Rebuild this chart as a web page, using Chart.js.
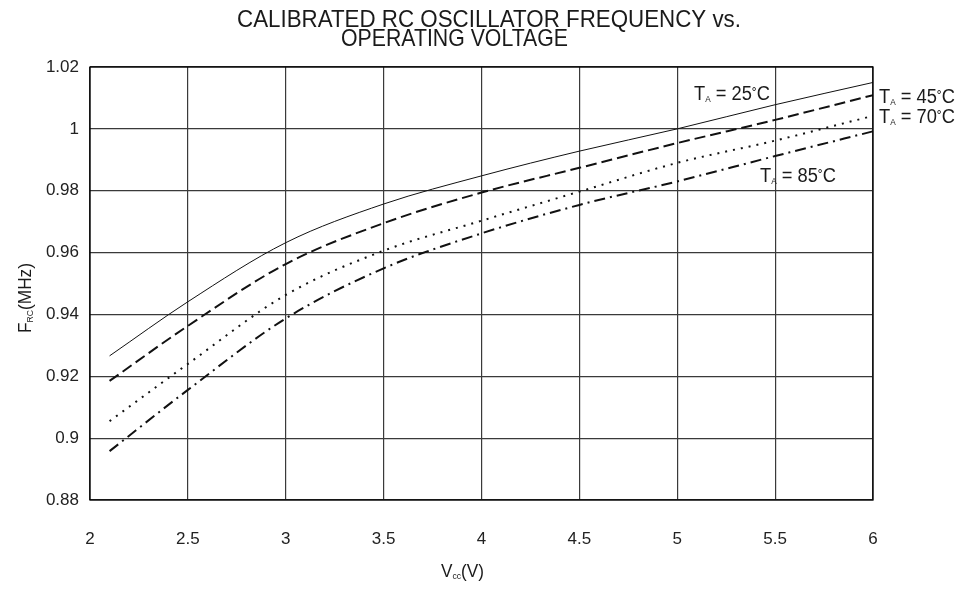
<!DOCTYPE html>
<html>
<head>
<meta charset="utf-8">
<script src="https://cdn.jsdelivr.net/npm/chart.js@4/dist/chart.umd.min.js"></script>
<style>
  html, body { margin: 0; padding: 0; background: #fff; }
  #wrap { width: 970px; height: 590px; }
</style>
</head>
<body>
<div id="wrap"><canvas id="chart" width="970" height="590"></canvas></div>
<script>
const titleLines = ['CALIBRATED RC OSCILLATOR FREQUENCY vs.', 'OPERATING VOLTAGE'];
const voltage = [2.1, 2.5, 3, 3.5, 4, 4.5, 5, 5.5, 6];
const freq25 = [0.9266, 0.9441, 0.9632, 0.9757, 0.9848, 0.9928, 1.0000, 1.0078, 1.0150];
const freq45 = [0.9185, 0.9363, 0.9563, 0.9695, 0.9794, 0.9874, 0.9954, 1.0029, 1.0109];
const freq70 = [0.9055, 0.9240, 0.9463, 0.9606, 0.9703, 0.9797, 0.9890, 0.9962, 1.0042];
const freq85 = [0.8958, 0.9156, 0.9387, 0.9549, 0.9662, 0.9754, 0.9830, 0.9912, 0.9992];
const xTicks = [2, 2.5, 3, 3.5, 4, 4.5, 5, 5.5, 6];
const yTicks = [0.88, 0.9, 0.92, 0.94, 0.96, 0.98, 1, 1.02];
const yTickLabels = ['0.88', '0.9', '0.92', '0.94', '0.96', '0.98', '1', '1.02'];
const seriesTemps = ['25', '45', '70', '85'];

const FONT = '"Liberation Sans", Arial, sans-serif';

function pts(ys) {
  return voltage.map((v, i) => ({ x: v, y: ys[i] }));
}

// where the T_A tags sit (data coords, left edge / baseline)
const tagPos = [
  { x: 5.086, y: 1.0093 },
  { x: 6.031, y: 1.0084 },
  { x: 6.031, y: 1.0019 },
  { x: 5.423, y: 0.9828 }
];

// draws mixed-size text (for subscripts) squeezed to a given width
function subText(ctx, parts, x, y, width, align) {
  let w = 0;
  parts.forEach(p => { ctx.font = p.size + 'px ' + FONT; w += ctx.measureText(p.t).width; });
  const k = width ? width / w : 1;
  ctx.save();
  const start = align === 'center' ? x - (w * k) / 2 : (align === 'right' ? x - w * k : x);
  ctx.translate(start, y);
  ctx.scale(k, 1);
  ctx.textAlign = 'left';
  ctx.textBaseline = 'alphabetic';
  let cx = 0;
  parts.forEach(p => {
    ctx.font = p.size + 'px ' + FONT;
    ctx.fillText(p.t, cx, p.dy || 0);
    cx += ctx.measureText(p.t).width;
  });
  ctx.restore();
}

const decorations = {
  id: 'decorations',
  afterDraw(chart) {
    const ctx = chart.ctx;
    const area = chart.chartArea;
    const xs = chart.scales.x, ys = chart.scales.y;
    ctx.save();
    ctx.fillStyle = '#1a1a1a';

    // title
    subText(ctx, [{ t: titleLines[0], size: 24 }], 237, 27, 504, 'left');
    subText(ctx, [{ t: titleLines[1], size: 24 }], 341, 46, 227, 'left');

    // plot border
    ctx.strokeStyle = '#000';
    ctx.lineWidth = 1.3;
    ctx.strokeRect(area.left, area.top, area.right - area.left, area.bottom - area.top);

    // temperature tags
    seriesTemps.forEach((t, i) => {
      const p = tagPos[i];
      const px = xs.getPixelForValue(p.x), py = ys.getPixelForValue(p.y);
      subText(ctx, [
        { t: 'T', size: 20 },
        { t: 'A', size: 9, dy: 2 },
        { t: ' = ' + t, size: 20 },
        { t: '˚', size: 16 },
        { t: 'C', size: 20 }
      ], px, py, 76, 'left');
    });

    // x axis title
    subText(ctx, [
      { t: 'V', size: 18 },
      { t: 'cc', size: 9, dy: 2 },
      { t: '(V)', size: 18 }
    ], 441, 577, 43, 'left');

    // y axis title (rotated)
    ctx.save();
    ctx.translate(31, 298);
    ctx.rotate(-Math.PI / 2);
    subText(ctx, [
      { t: 'F', size: 18 },
      { t: 'RC', size: 9, dy: 2 },
      { t: '(MHz)', size: 18 }
    ], 0, 0, 70, 'center');
    ctx.restore();

    ctx.restore();
  }
};

const common = { pointRadius: 0, fill: false, cubicInterpolationMode: 'monotone', borderColor: '#111' };

new Chart(document.getElementById('chart'), {
  type: 'line',
  data: {
    datasets: [
      Object.assign({ label: 'TA = 25°C', data: pts(freq25), borderWidth: 1 }, common),
      Object.assign({ label: 'TA = 45°C', data: pts(freq45), borderWidth: 2, borderDash: [11, 5] }, common),
      Object.assign({ label: 'TA = 70°C', data: pts(freq70), borderWidth: 2, borderDash: [2, 6] }, common),
      Object.assign({ label: 'TA = 85°C', data: pts(freq85), borderWidth: 2, borderDash: [11, 5, 2, 5] }, common)
    ]
  },
  options: {
    responsive: false,
    animation: false,
    devicePixelRatio: 1,
    layout: { padding: { left: 0, right: 97, top: 67, bottom: 0 } },
    plugins: { legend: { display: false }, tooltip: { enabled: false }, title: { display: false } },
    scales: {
      x: {
        type: 'linear',
        min: 2, max: 6,
        afterBuildTicks(scale) { scale.ticks = xTicks.map(v => ({ value: v })); },
        afterFit(scale) { scale.height = 90; },
        ticks: { color: '#222', font: { family: FONT, size: 17 }, padding: 29, maxRotation: 0, callback: v => String(v) },
        grid: { color: '#3a3a3a', lineWidth: 1.2, drawTicks: false },
        border: { display: false }
      },
      y: {
        type: 'linear',
        min: 0.88, max: 1.02,
        afterBuildTicks(scale) { scale.ticks = yTicks.map(v => ({ value: v })); },
        afterFit(scale) { scale.width = 90; },
        ticks: {
          color: '#222', font: { family: FONT, size: 17 }, padding: 11,
          callback: (v) => { const i = yTicks.findIndex(t => Math.abs(t - v) < 1e-6); return i >= 0 ? yTickLabels[i] : ''; }
        },
        grid: { color: '#3a3a3a', lineWidth: 1.2, drawTicks: false },
        border: { display: false }
      }
    }
  },
  plugins: [decorations]
});
</script>
</body>
</html>
